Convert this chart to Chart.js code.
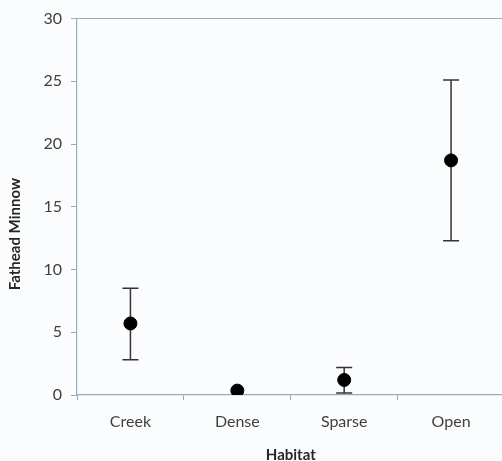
<!DOCTYPE html>
<html>
<head>
<meta charset="utf-8">
<script src="https://cdn.jsdelivr.net/npm/chart.js@4"></script>
<style>
  html, body { margin: 0; padding: 0; overflow: hidden; background: #fbfcfe; }
  #wrap { width: 512px; height: 461px; }
</style>
</head>
<body>
<div id="wrap"><canvas id="chart"></canvas></div>
<script>
// data
const habitats = ['Creek', 'Dense', 'Sparse', 'Open'];
const means = [5.7, 0.35, 1.2, 18.7];
const errUpper = [8.5, 0.35, 2.2, 25.1];
const errLower = [2.8, 0.35, 0.15, 12.3];
const yTicks = [0, 5, 10, 15, 20, 25, 30];

const axisColor = '#98adbb';
const font = "Lato, 'Open Sans', sans-serif";

// draws the vertical error bars with caps from the scales
const errorBars = {
    id: 'errorBars',
    beforeDatasetsDraw(chart) {
        const ctx = chart.ctx;
        const x = chart.scales.x, y = chart.scales.y;
        ctx.save();
        ctx.strokeStyle = '#333';
        ctx.lineWidth = 1.5;
        habitats.forEach((h, i) => {
            if (errUpper[i] === errLower[i]) return;
            const px = x.getPixelForValue(i);
            const top = y.getPixelForValue(errUpper[i]);
            const bot = y.getPixelForValue(errLower[i]);
            ctx.beginPath();
            ctx.moveTo(px, top); ctx.lineTo(px, bot);
            ctx.moveTo(px - 8, top); ctx.lineTo(px + 8, top);
            ctx.moveTo(px - 8, bot); ctx.lineTo(px + 8, bot);
            ctx.stroke();
        });
        ctx.restore();
    }
};

new Chart(document.getElementById('chart'), {
    type: 'line',
    data: {
        labels: habitats,
        datasets: [{
            data: means,
            showLine: false,
            pointRadius: 6.5,
            pointHoverRadius: 6.5,
            pointBackgroundColor: '#000',
            pointBorderColor: '#000'
        }]
    },
    options: {
        responsive: true,
        maintainAspectRatio: false,
        animation: false,
        layout: { padding: { top: 18, right: 5, left: 0, bottom: 0 } },
        plugins: { legend: { display: false }, tooltip: { enabled: false } },
        scales: {
            x: {
                type: 'category',
                offset: true,
                afterFit: s => { s.height = 66; },
                border: { color: axisColor, width: 1.2 },
                grid: { offset: true, color: 'transparent', tickColor: axisColor, tickLength: 5 },
                ticks: { color: '#404040', font: { family: font, size: 16 }, padding: 12 },
                title: { display: true, text: 'Habitat', color: '#262626', font: { family: font, size: 15, weight: 'bold' }, padding: { top: 0, bottom: -3 } }
            },
            y: {
                min: 0,
                max: 30,
                afterFit: s => { s.width = 77; },
                afterBuildTicks: s => { s.ticks = yTicks.map(v => ({ value: v })); },
                border: { color: axisColor, width: 1.2 },
                grid: {
                    color: c => (c.tick && c.tick.value === 30 ? axisColor : 'transparent'),
                    tickColor: axisColor,
                    tickLength: 6
                },
                ticks: { color: '#404040', font: { family: font, size: 16 }, padding: 9 },
                title: { display: true, text: 'Fathead Minnow               ', color: '#262626', font: { family: font, size: 15, weight: 'bold' }, padding: { top: 6, bottom: 0 } }
            }
        }
    },
    plugins: [errorBars]
});
</script>
</body>
</html>
